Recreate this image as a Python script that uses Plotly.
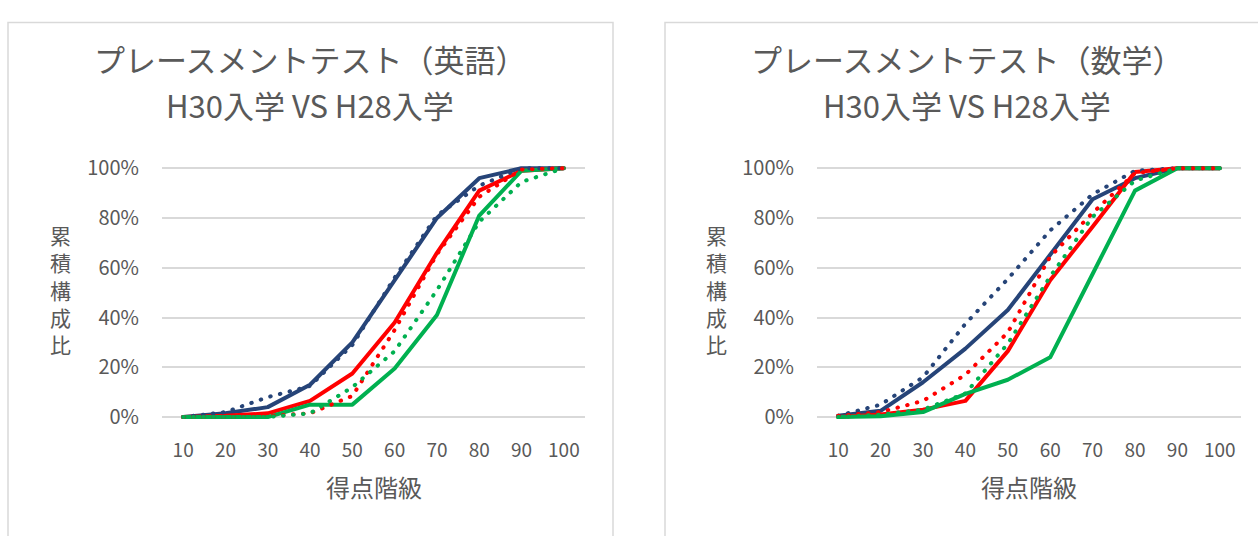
import plotly.graph_objects as go

W, H = 1258, 536

score_bins = [10, 20, 30, 40, 50, 60, 70, 80, 90, 100]
y_ticks = [0, 20, 40, 60, 80, 100]

# 英語: cumulative share (%) by score bin
eng_h30_navy = [0, 1.5, 4, 13, 30, 55, 80, 96, 100, 100]
eng_h28_navy = [0, 2, 8, 12.5, 29, 56, 81, 93, 100, 100]
eng_h30_red = [0, 0.5, 1.5, 6.5, 17.5, 38, 66, 91, 99, 100]
eng_h28_red = [0, 0, 0.5, 1.5, 8.5, 35, 65.5, 88.5, 99.5, 100]
eng_h30_green = [0, 0, 0, 5, 5, 19.5, 41, 81, 99, 100]
eng_h28_green = [0, 0, 0, 1.5, 12, 26.5, 51, 78.5, 94.5, 100]

# 数学: cumulative share (%) by score bin
math_h30_navy = [0.5, 2.5, 14, 27.5, 43, 65, 87.5, 96, 100, 100]
math_h28_navy = [0.5, 5, 16, 37.5, 55.5, 75, 89.5, 99, 100, 100]
math_h30_red = [0, 1, 3, 6.5, 26.5, 55, 76.5, 98.5, 100, 100]
math_h28_red = [0.5, 2, 6.5, 17, 34, 64.5, 82, 98, 100, 100]
math_h30_green = [0, 0.3, 2, 9.3, 15, 24, 57.5, 91, 100, 100]
math_h28_green = [0, 1, 3, 9.5, 29.5, 56.5, 80.5, 95, 100, 100]

NAVY, RED, GREEN = "#264478", "#FF0000", "#00B050"
TEXT = "#595959"
GRID = "#D9D9D9"
FONT = "Noto Sans CJK JP"


def px_x(x):
    return x / W


def px_y(y):
    return 1 - y / H


# plot-area geometry (pixels): 0% row at 421, 100% row at 163
Y0_PX, Y100_PX = 421, 163
unit = (Y0_PX - Y100_PX) / 100
YR = [-2, 102]
dom_y = [px_y(Y0_PX - (YR[0]) * unit), px_y(Y100_PX - (YR[1] - 100) * unit)]
panels = [
    dict(x0=162, x1=585, box=(8, 613), cx=310, title="プレースメントテスト（英語）",
         series=[eng_h30_navy, eng_h30_red, eng_h30_green,
                 eng_h28_navy, eng_h28_red, eng_h28_green]),
    dict(x0=817, x1=1241, box=(665, 1272), cx=967, title="プレースメントテスト（数学）",
         series=[math_h30_navy, math_h30_red, math_h30_green,
                 math_h28_navy, math_h28_red, math_h28_green]),
]

names = ["H30入学", "H30入学", "H30入学", "H28入学", "H28入学", "H28入学"]
colors = [NAVY, RED, GREEN, NAVY, RED, GREEN]
dashes = ["solid", "solid", "solid", "0.5px,9.5px", "0.5px,9.5px", "0.5px,9.5px"]

fig = go.Figure()
annotations = []
shapes = []

for i, p in enumerate(panels):
    xa = "x" if i == 0 else "x2"
    ya = "y" if i == 0 else "y2"
    for vals, nm, col, dsh in zip(p["series"], names, colors, dashes):
        fig.add_trace(go.Scatter(
            x=score_bins, y=vals, mode="lines", name=nm,
            line=dict(color=col, width=4, dash=dsh),
            xaxis=xa, yaxis=ya, showlegend=False, hoverinfo="skip",
        ))
    sfx = "" if i == 0 else "2"
    common_x = dict(
        domain=[px_x(p["x0"]), px_x(p["x1"])], range=[5, 105],
        tickmode="array", tickvals=score_bins, ticktext=[str(v) for v in score_bins],
        showgrid=False, zeroline=False, showline=False, ticks="",
        tickfont=dict(family=FONT, size=19, color=TEXT),
        ticklabelstandoff=15, anchor=ya, fixedrange=True,
    )
    common_y = dict(
        domain=dom_y, range=YR, tickmode="array", tickvals=y_ticks,
        ticktext=[f"{v}%" for v in y_ticks],
        showgrid=True, gridcolor=GRID, gridwidth=1.5, zeroline=False,
        showline=False, ticks="", anchor=xa,
        tickfont=dict(family=FONT, size=20, color=TEXT),
        ticklabelstandoff=22, fixedrange=True,
    )
    fig.update_layout({f"xaxis{sfx}": common_x, f"yaxis{sfx}": common_y})

    bx0, bx1 = p["box"]
    shapes.append(dict(type="rect", xref="paper", yref="paper",
                       x0=px_x(bx0), x1=px_x(bx1), y0=px_y(12), y1=px_y(560),
                       line=dict(color=GRID, width=1.5), fillcolor="rgba(0,0,0,0)",
                       layer="below"))

    cx = p["cx"]
    annotations.append(dict(text=p["title"], x=px_x(cx), y=px_y(49),
                            xref="paper", yref="paper", showarrow=False,
                            xanchor="center", yanchor="middle",
                            font=dict(family=FONT, size=31, color=TEXT)))
    annotations.append(dict(text="H30入学 VS H28入学", x=px_x(cx), y=px_y(97),
                            xref="paper", yref="paper", showarrow=False,
                            xanchor="center", yanchor="middle",
                            font=dict(family=FONT, size=31, color=TEXT)))
    # x-axis title
    annotations.append(dict(text="得点階級", x=px_x((p["x0"] + p["x1"]) / 2),
                            y=px_y(493), xref="paper", yref="paper",
                            showarrow=False, xanchor="center", yanchor="middle",
                            font=dict(family=FONT, size=24, color=TEXT)))
    # y-axis title, stacked upright characters
    ytx = 60 if i == 0 else 716
    annotations.append(dict(text="<br>".join("累積構成比"), x=px_x(ytx), y=px_y(289),
                            xref="paper", yref="paper", showarrow=False,
                            xanchor="center", yanchor="middle",
                            font=dict(family=FONT, size=21, color=TEXT)))

fig.update_layout(
    width=W, height=H, margin=dict(l=0, r=0, t=0, b=0),
    paper_bgcolor="white", plot_bgcolor="white",
    annotations=annotations, shapes=shapes, showlegend=False,
)

round_caps = ("var s=document.createElement('style');"
              "s.textContent='.js-line{stroke-linecap:round;stroke-linejoin:round}';"
              "document.head.appendChild(s);")
fig.write_html("out.html", post_script=round_caps, config={"displayModeBar": False})
